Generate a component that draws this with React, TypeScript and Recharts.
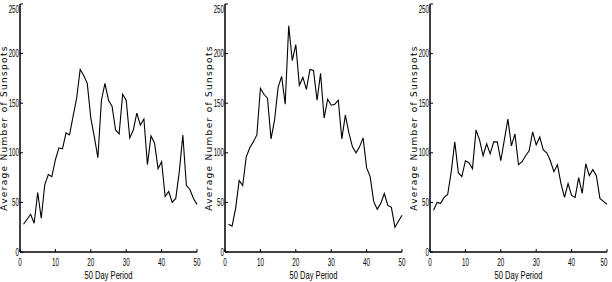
import { LineChart, Line, XAxis, YAxis, Label } from "recharts";

// 50-day periods along the x axis
const periods = Array.from({ length: 50 }, (_, i) => i + 1);

// average sunspot numbers
const cycleA = [
	28, 33, 38, 29, 60, 34, 68, 78, 76, 93, 105, 104, 120, 118, 137, 155, 184,
	178, 170, 135, 116, 95, 153, 170, 153, 147, 123, 119, 159, 153, 115, 123,
	140, 128, 134, 88, 117, 110, 84, 91, 56, 61, 50, 54, 81, 118, 67, 63, 54,
	48,
];
const cycleB = [
	28, 26, 44, 72, 67, 96, 105, 111, 118, 165, 159, 155, 114, 133, 166, 177,
	149, 228, 193, 209, 168, 176, 164, 184, 183, 153, 180, 135, 154, 148, 149,
	153, 114, 138, 120, 106, 100, 106, 115, 85, 76, 51, 43, 49, 59, 47, 45, 25,
	31, 37,
];
const cycleC = [
	42, 50, 49, 55, 58, 81, 111, 80, 76, 92, 90, 84, 123, 113, 97, 109, 99,
	111, 111, 92, 113, 134, 107, 119, 88, 91, 97, 102, 121, 108, 116, 103, 100,
	92, 81, 88, 69, 55, 69, 57, 55, 75, 59, 89, 77, 83, 77, 54, 51, 48,
];

const xTicks = [0, 10, 20, 30, 40, 50];
const yTicks = [0, 50, 100, 150, 200, 250];

const font = "'Liberation Sans', Arial, Helvetica, sans-serif";

function XTick({ x, y, payload }: any) {
	return (
		<text
			transform={`translate(${x},${y + 14}) scale(0.6,1)`}
			textAnchor="middle"
			fontSize={10.5}
			fontFamily={font}
			fill="#000"
		>
			{payload.value}
		</text>
	);
}

function YTick({ x, y, payload }: any) {
	return (
		<text
			transform={`translate(${x},${y + 3.5}) scale(0.62,1)`}
			textAnchor="end"
			fontSize={10}
			fontFamily={font}
			fill="#000"
		>
			{payload.value}
		</text>
	);
}

function XTitle({ viewBox }: any) {
	const cx = viewBox.x + viewBox.width / 2;
	return (
		<text
			transform={`translate(${cx},${viewBox.y + 26.5}) scale(0.72,1)`}
			textAnchor="middle"
			fontSize={10.5}
			fontFamily={font}
			fill="#000"
		>
			50 Day Period
		</text>
	);
}

function YTitle({ viewBox }: any) {
	const cy = viewBox.y + viewBox.height / 2;
	return (
		<text
			transform={`translate(${viewBox.x},${cy}) rotate(-90)`}
			textAnchor="middle"
			dy={7}
			fontSize={9}
			letterSpacing={1.3}
			fontFamily="'DejaVu Sans', Verdana, sans-serif"
			fill="#000"
		>
			Average Number of Sunspots
		</text>
	);
}

function Panel({ values, width, right }: { values: number[]; width: number; right: number }) {
	const data = periods.map((p, i) => ({ period: p, spots: values[i] }));
	return (
		<LineChart
			width={width}
			height={282}
			data={data}
			margin={{ top: 4, right, left: 0, bottom: 0 }}
		>
			<XAxis
				dataKey="period"
				type="number"
				domain={[0, 50]}
				ticks={xTicks}
				height={30}
				tickSize={-3}
				tickMargin={3}
				tick={<XTick />}
				axisLine={{ stroke: "#000", strokeWidth: 1.5 }}
				tickLine={{ stroke: "#000" }}
				label={<Label content={<XTitle />} />}
			/>
			<XAxis
				xAxisId="top"
				orientation="top"
				dataKey="period"
				type="number"
				domain={[0, 50]}
				ticks={xTicks}
				height={0}
				tickSize={-3}
				tick={false}
				axisLine={{ stroke: "#555", strokeWidth: 1 }}
				tickLine={{ stroke: "#555" }}
			/>
			<YAxis
				type="number"
				domain={[0, 250]}
				ticks={yTicks}
				width={20}
				tickSize={-3}
				tickMargin={4}
				tick={<YTick />}
				axisLine={{ stroke: "#000", strokeWidth: 1.5 }}
				tickLine={{ stroke: "#000" }}
				label={<Label content={<YTitle />} />}
			/>
			<YAxis
				yAxisId="right"
				orientation="right"
				type="number"
				domain={[0, 250]}
				ticks={yTicks}
				width={0}
				tickSize={-3}
				tick={false}
				axisLine={{ stroke: "#000", strokeWidth: 1.5 }}
				tickLine={{ stroke: "#000" }}
			/>
			<Line
				type="linear"
				dataKey="spots"
				stroke="#000"
				strokeWidth={1.1}
				dot={false}
				isAnimationActive={false}
			/>
		</LineChart>
	);
}

export default function App() {
	return (
		<div
			style={{
				position: "absolute",
				left: 0,
				top: 0,
				width: 612,
				height: 282,
				background: "#fff",
				display: "flex",
				overflow: "hidden",
			}}
		>
			<Panel values={cycleA} width={205} right={8} />
			<Panel values={cycleB} width={205} right={8} />
			<Panel values={cycleC} width={202} right={5} />
		</div>
	);
}
